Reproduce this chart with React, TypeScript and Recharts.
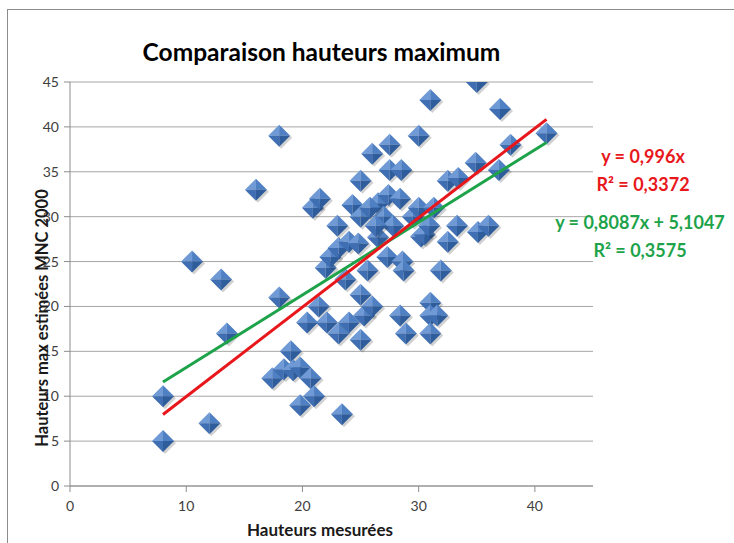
import { ScatterChart, Scatter, XAxis, YAxis, CartesianGrid } from "recharts";

// Hauteurs mesurées (x) vs hauteurs max estimées MNC 2000 (y)
const measured = [
  8, 8, 12, 10.5, 13, 13.5, 16, 18, 18, 17.4, 18.4, 19, 19.2, 19.8, 20.7, 21, 19.8, 23.4,
  20.4, 21.4, 22.1, 23.1, 24, 25, 25.3, 25, 26,
  20.9, 21.5, 22, 22.4, 23.1, 23, 24, 24.3, 24.8, 25, 25, 23.7, 25.6, 26, 26.5, 26.5, 27.3,
  27.4, 27.5, 27.5, 28.4, 28.5, 28.6, 28.7, 27, 27.8, 28.4, 28.9, 29.5, 25.8, 26.3, 30.2,
  30, 30, 30.5, 31.3, 30.9, 31, 31, 31, 31.6, 31, 31.9, 32.5, 33.4, 32.5, 33.3, 35, 34.9,
  35.1, 36, 37, 36.9, 37.9, 41,
];
const estimated = [
  5, 10, 7, 25, 23, 17, 33, 39, 21, 12, 13, 15, 12.9, 13.2, 12, 10, 9, 8,
  18.2, 20, 18.2, 17, 18.2, 16.3, 19, 21.3, 20,
  31, 32, 24.3, 25.5, 26.5, 29, 27.2, 31.3, 27, 30, 34, 23, 24, 37, 31.5, 27.7, 25.5,
  32.4, 38, 35.2, 32, 35.2, 25, 24, 30, 29, 19, 17, 30, 31, 29, 27.8,
  39, 31, 28, 31, 29, 43, 20.4, 19, 19, 17, 24, 34, 34.3, 27.2, 29, 45, 36,
  28.3, 29, 42, 35.2, 38, 39.3,
];

const xTicks = [0, 10, 20, 30, 40];
const yTicks = [0, 5, 10, 15, 20, 25, 30, 35, 40, 45];

// trend lines shown in the chart
const redSlope = 0.996;
const greenSlope = 0.8087;
const greenIntercept = 5.1047;
const trendRange = [8, 41];

const points = measured.map((x, i) => ({ x, y: estimated[i] }));
const redLine = trendRange.map((x) => ({ x, y: redSlope * x }));
const greenLine = trendRange.map((x) => ({ x, y: greenSlope * x + greenIntercept }));

const font = "Lato, 'Open Sans', sans-serif";

const Diamond = (props: any) => {
  const { cx, cy } = props;
  if (cx == null || cy == null) return <g />;
  const r = 11;
  const t = `${cx},${cy - r}`;
  const rt = `${cx + r},${cy}`;
  const b = `${cx},${cy + r}`;
  const l = `${cx - r},${cy}`;
  const c = `${cx},${cy}`;
  return (
    <g>
      <polygon points={`${cx + 2},${cy - r + 2} ${cx + r + 2},${cy + 2} ${cx + 2},${cy + r + 2} ${cx - r + 2},${cy + 2}`} fill="rgba(0,0,0,0.18)" />
      <polygon points={`${c} ${l} ${t}`} fill="#6f9ad6" />
      <polygon points={`${c} ${t} ${rt}`} fill="#4f80c4" />
      <polygon points={`${c} ${rt} ${b}`} fill="#2f5d9c" />
      <polygon points={`${c} ${b} ${l}`} fill="#3f6fb2" />
    </g>
  );
};

const NoDot = () => <g />;

export default function App() {
  return (
    <div style={{ position: "absolute", left: 0, top: 0, width: 734, height: 543, overflow: "hidden", background: "#fff", fontFamily: font }}>
      <div style={{ position: "absolute", left: 7, top: 9, width: 740, height: 560, border: "1px solid #8c8c8c" }} />
      <ScatterChart width={734} height={543} margin={{ top: 82, right: 141, bottom: 0, left: 0 }}>
        <CartesianGrid vertical={false} stroke="#a6a6a6" />
        <XAxis
          type="number"
          dataKey="x"
          domain={[0, 45]}
          ticks={xTicks}
          allowDataOverflow
          height={57}
          stroke="#8c8c8c"
          tickSize={6}
          tickMargin={9}
          tick={{ fill: "#404040", fontSize: 14, fontFamily: font }}
        />
        <YAxis
          type="number"
          dataKey="y"
          domain={[0, 45]}
          ticks={yTicks}
          allowDataOverflow
          width={70}
          stroke="#8c8c8c"
          tickSize={6}
          tickMargin={5}
          tick={{ fill: "#404040", fontSize: 14, fontFamily: font }}
        />
        <Scatter data={points} shape={<Diamond />} isAnimationActive={false} />
        <Scatter data={greenLine} line={{ stroke: "#1ea34a", strokeWidth: 3 }} shape={<NoDot />} isAnimationActive={false} />
        <Scatter data={redLine} line={{ stroke: "#e8171c", strokeWidth: 3 }} shape={<NoDot />} isAnimationActive={false} />
      </ScatterChart>
      <div style={{ position: "absolute", left: 0, width: 643, top: 37, textAlign: "center", fontSize: 24.5, fontWeight: 700, color: "#000" }}>
        Comparaison hauteurs maximum
      </div>
      <div style={{ position: "absolute", left: 70, width: 500, top: 519, textAlign: "center", fontSize: 17, fontWeight: 700, color: "#1a1a1a" }}>
        Hauteurs mesurées
      </div>
      <div
        style={{
          position: "absolute",
          left: 42 - 200,
          top: 318 - 12,
          width: 400,
          height: 24,
          lineHeight: "24px",
          textAlign: "center",
          transform: "rotate(-90deg)",
          fontSize: 16.5,
          fontWeight: 700,
          color: "#1a1a1a",
        }}
      >
        Hauteurs max estimées MNC 2000
      </div>
      <div style={{ position: "absolute", left: 560, width: 166, top: 142, textAlign: "center", fontSize: 18, fontWeight: 700, color: "#e8171c", lineHeight: "28px" }}>
        y = 0,996x
        <br />
        R² = 0,3372
      </div>
      <div style={{ position: "absolute", left: 540, width: 200, top: 208, textAlign: "center", fontSize: 18, fontWeight: 700, color: "#1ea34a", lineHeight: "28px" }}>
        y = 0,8087x + 5,1047
        <br />
        R² = 0,3575
      </div>
    </div>
  );
}
